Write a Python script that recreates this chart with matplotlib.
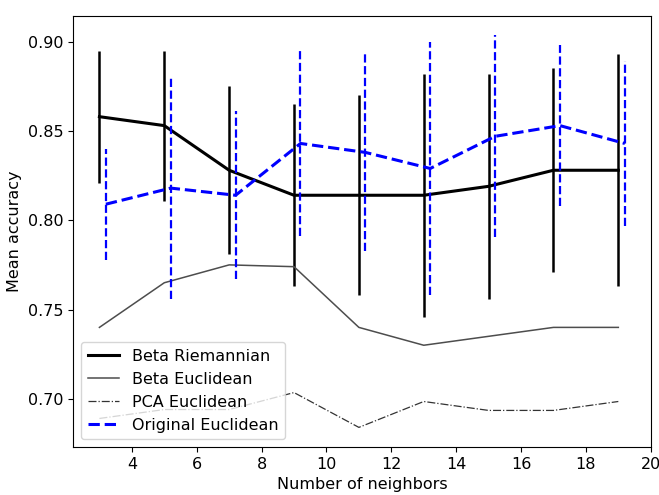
import numpy as np
import matplotlib
matplotlib.use("Agg")
import matplotlib.pyplot as plt

plt.rcParams['font.size'] = 11.5

# number of neighbours
k = np.array([3, 5, 7, 9, 11, 13, 15, 17, 19])

# Beta Riemannian (mean + std)
beta_riem = [0.858, 0.853, 0.828, 0.814, 0.814, 0.814, 0.819, 0.828, 0.828]
beta_riem_std = [0.037, 0.042, 0.047, 0.051, 0.056, 0.068, 0.063, 0.057, 0.065]

# Beta Euclidean
beta_eucl = [0.740, 0.765, 0.775, 0.774, 0.740, 0.730, 0.735, 0.740, 0.740]

# PCA Euclidean
pca_eucl = [0.689, 0.694, 0.694, 0.7035, 0.684, 0.6985, 0.6935, 0.6935, 0.6985]

# Original Euclidean (mean + std), drawn shifted by 0.2
orig_eucl = [0.809, 0.818, 0.814, 0.843, 0.838, 0.829, 0.847, 0.853, 0.843]
orig_eucl_std = [0.031, 0.062, 0.047, 0.052, 0.055, 0.071, 0.0565, 0.045, 0.046]
shift = 0.2

fig = plt.figure(figsize=(6.59, 4.95), dpi=100)
ax = fig.add_axes([0.111, 0.097, 0.877, 0.871])

ax.plot(k, beta_riem, color='k', lw=2.2, label='Beta Riemannian')
ax.errorbar(k, beta_riem, yerr=beta_riem_std, fmt='none', ecolor='k', elinewidth=1.8)

ax.plot(k, beta_eucl, color='0.3', lw=1.1, label='Beta Euclidean')
ax.plot(k, pca_eucl, color='0.2', lw=0.9, ls='-.', label='PCA Euclidean')

ax.plot(k + shift, orig_eucl, color='b', lw=2.2, ls='--', label='Original Euclidean')
eb = ax.errorbar(k + shift, orig_eucl, yerr=orig_eucl_std, fmt='none', ecolor='b', elinewidth=1.6)
eb[2][0].set_linestyle('--')

ax.set_xlabel('Number of neighbors')
ax.set_ylabel('Mean accuracy')
ax.legend(loc='lower left')

fig.savefig('out.png', dpi=100)
